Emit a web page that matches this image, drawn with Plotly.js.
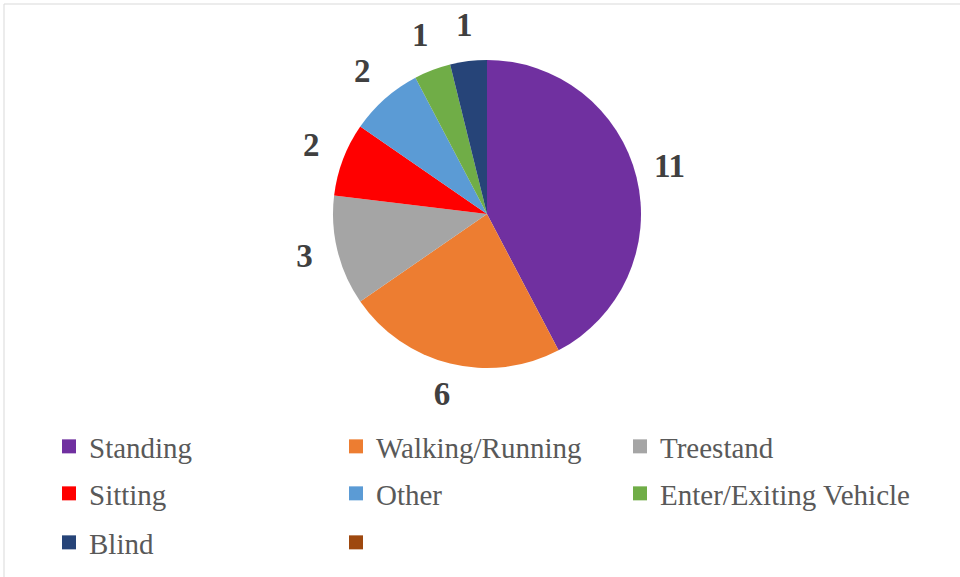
<!DOCTYPE html>
<html>
<head>
<meta charset="utf-8">
<script src="https://cdn.plot.ly/plotly-3.0.1.min.js"></script>
<style>html,body{margin:0;padding:0;background:#fff;}#chart{width:960px;height:577px;}</style>
</head>
<body>
<div id="chart"></div>
<script>
const categories = ['Standing', 'Walking/Running', 'Treestand', 'Sitting', 'Other', 'Enter/Exiting Vehicle', 'Blind', ' '];
const counts = [11, 6, 3, 2, 2, 1, 1, 0];
const sliceColors = ['#7030A0', '#ED7D31', '#A5A5A5', '#FF0000', '#5B9BD5', '#70AD47', '#264478', '#9E480E'];

const W = 960, H = 577;
const cx = 487, cy = 214, R = 154;      // pie centre / radius in pixels
const labelDist = 188 / R;              // data labels sit outside the pie edge
const polarHalf = 210;                  // half-size of overlay polar box
const serif = 'Liberation Serif, Times New Roman, serif';
const colX = [49, 336, 620];            // legend column starts (px)
const rowTop = [421, 468, 517];         // legend row tops (px)

// pie slices
const pie = {
  type: 'pie',
  labels: categories,
  values: counts,
  textinfo: 'none',
  sort: false,
  direction: 'clockwise',
  rotation: 0,
  marker: {colors: sliceColors, line: {width: 0}},
  domain: {x: [(cx - R) / W, (cx + R) / W], y: [1 - (cy + R) / H, 1 - (cy - R) / H]},
  hoverinfo: 'label+value',
  showlegend: false
};

// data labels via polar overlay at slice mid-angles
const total = counts.reduce((a, b) => a + b, 0);
let cum = 0;
const midTheta = [], labelVals = [];
counts.forEach(v => {
  if (v > 0) {
    midTheta.push((cum + v / 2) / total * 360);
    labelVals.push(String(v));
  }
  cum += v;
});
const labels = {
  type: 'scatterpolar',
  mode: 'text',
  r: midTheta.map(() => labelDist),
  theta: midTheta,
  text: labelVals,
  textposition: 'middle center',
  textfont: {family: serif, size: 33, color: '#404040', weight: 'bold'},
  hoverinfo: 'skip',
  showlegend: false,
  subplot: 'polar'
};

// legend entries: one small legend per cell of a 3-column grid
const legendTraces = categories.map((c, i) => ({
  type: 'scatter',
  mode: 'markers',
  x: [null], y: [null],
  name: c,
  marker: {symbol: 'square', size: 14, color: sliceColors[i]},
  legend: i === 0 ? 'legend' : 'legend' + (i + 1),
  showlegend: true,
  hoverinfo: 'skip'
}));

const layout = {
  width: W,
  height: H,
  margin: {l: 0, r: 0, t: 0, b: 0},
  paper_bgcolor: '#ffffff',
  plot_bgcolor: 'rgba(0,0,0,0)',
  showlegend: true,
  xaxis: {visible: false},
  yaxis: {visible: false},
  polar: {
    domain: {x: [(cx - polarHalf) / W, (cx + polarHalf) / W], y: [1 - (cy + polarHalf) / H, 1 - (cy - polarHalf) / H]},
    bgcolor: 'rgba(0,0,0,0)',
    radialaxis: {visible: false, range: [0, polarHalf / R]},
    angularaxis: {visible: false, rotation: 90, direction: 'clockwise'}
  },
  shapes: [
    {type: 'line', xref: 'paper', yref: 'paper', x0: 4 / W, x1: 1, y0: 1 - 4 / H, y1: 1 - 4 / H, line: {color: '#D9D9D9', width: 1}},
    {type: 'line', xref: 'paper', yref: 'paper', x0: 4 / W, x1: 4 / W, y0: 0, y1: 1 - 4 / H, line: {color: '#D9D9D9', width: 1}}
  ]
};

categories.forEach((c, i) => {
  const key = i === 0 ? 'legend' : 'legend' + (i + 1);
  layout[key] = {
    orientation: 'v',
    x: colX[i % 3] / W,
    xanchor: 'left',
    y: 1 - rowTop[Math.floor(i / 3)] / H,
    yanchor: 'top',
    font: {family: serif, size: 29, color: '#595959'},
    bgcolor: 'rgba(0,0,0,0)',
    itemclick: false,
    itemdoubleclick: false
  };
});

Plotly.newPlot('chart', [pie, labels].concat(legendTraces), layout, {displayModeBar: false, responsive: false});
</script>
</body>
</html>
